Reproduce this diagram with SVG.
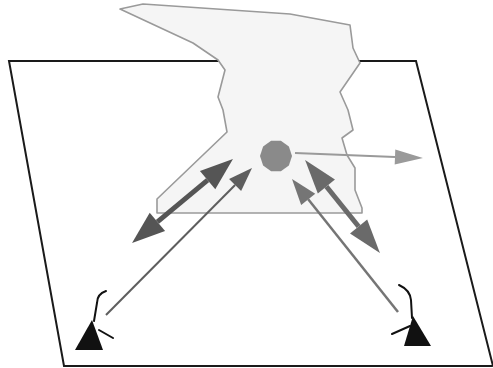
<svg xmlns="http://www.w3.org/2000/svg" width="493" height="368" viewBox="0 0 493 368">
  <style>
    .plane { fill: #ffffff; stroke: #1a1a1a; stroke-width: 2; }
    .cloud { fill: #f5f5f5; stroke: #9a9a9a; stroke-width: 1.6; stroke-linejoin: round; }
    .source { fill: #8a8a8a; }
    .antenna { fill: #111111; }
    .mast { fill: none; stroke: #111111; stroke-width: 2; stroke-linecap: round; }
    .heavy-l { stroke: #555555; stroke-width: 5; }
    .heavy-r { stroke: #6a6a6a; stroke-width: 5; }
    .thin-l { stroke: #5e5e5e; stroke-width: 2; }
    .thin-r { stroke: #757575; stroke-width: 2.5; }
    .out { stroke: #9a9a9a; stroke-width: 2; }
  </style>
  <defs>
    <marker id="head-heavy-l" markerUnits="userSpaceOnUse" markerWidth="36" markerHeight="26" refX="0" refY="12" orient="auto-start-reverse" overflow="visible">
      <path d="M0,0 L33,12 L0,24 Z" fill="#555555"/>
    </marker>
    <marker id="head-heavy-r" markerUnits="userSpaceOnUse" markerWidth="36" markerHeight="26" refX="0" refY="11" orient="auto-start-reverse" overflow="visible">
      <path d="M0,0 L34,11 L0,22 Z" fill="#6a6a6a"/>
    </marker>
    <marker id="head-thin-l" markerUnits="userSpaceOnUse" markerWidth="26" markerHeight="18" refX="0" refY="8.5" orient="auto" overflow="visible">
      <path d="M0,0 L24,8.5 L0,17 Z" fill="#5e5e5e"/>
    </marker>
    <marker id="head-thin-r" markerUnits="userSpaceOnUse" markerWidth="28" markerHeight="20" refX="0" refY="9" orient="auto" overflow="visible">
      <path d="M0,0 L26,9 L0,18 Z" fill="#757575"/>
    </marker>
    <marker id="head-out" markerUnits="userSpaceOnUse" markerWidth="30" markerHeight="16" refX="0" refY="7.5" orient="auto" overflow="visible">
      <path d="M0,0 L28,7.5 L0,15 Z" fill="#9a9a9a"/>
    </marker>
  </defs>

  <!-- ground plane -->
  <g id="plane">
    <polygon class="plane" points="9,61 416,61 493,366 64,366"/>
  </g>

  <!-- cloud region -->
  <g id="cloud">
    <polygon class="cloud" points="120,9 143,4 290,14 350,25 353,48 360,63 340,92 348,110 353,130 342,138 347,155 355,168 355,190 362,208 362,213 157,213 157,199 227,132 223,110 218,97 225,70 218,60 193,43"/>
  </g>

  <!-- emitting source -->
  <g id="source">
    <polygon class="source" points="292,156 288.9,165.4 280.9,171.2 271.1,171.2 263.1,165.4 260,156 263.1,146.6 271.1,140.8 280.9,140.8 288.9,146.6"/>
  </g>

  <!-- left receiver -->
  <g id="antenna-left">
    <polygon class="antenna" points="92,320 75,350 103,350"/>
    <path class="mast" d="M106,291 Q97,294 97,303 L94,321"/>
    <path class="mast" d="M99,330 L113,338"/>
  </g>

  <!-- right receiver -->
  <g id="antenna-right">
    <polygon class="antenna" points="413,316 404,346 431,346"/>
    <path class="mast" d="M399,285 Q410,290 411,300 L412,318"/>
    <path class="mast" d="M410,326 L392,334"/>
  </g>

  <!-- connectors -->
  <g id="connectors">
    <line class="heavy-l" x1="157.4" y1="221.9" x2="207.6" y2="180.1" marker-start="url(#head-heavy-l)" marker-end="url(#head-heavy-l)"/>
    <line class="thin-l" x1="106" y1="315" x2="235.1" y2="185" marker-end="url(#head-thin-l)"/>
    <line class="heavy-r" x1="326.4" y1="186.5" x2="358.6" y2="226.5" marker-start="url(#head-heavy-r)" marker-end="url(#head-heavy-r)"/>
    <line class="thin-r" x1="398" y1="312" x2="308.2" y2="199.3" marker-end="url(#head-thin-r)"/>
    <line class="out" x1="295" y1="153" x2="395" y2="157" marker-end="url(#head-out)"/>
  </g>
</svg>
